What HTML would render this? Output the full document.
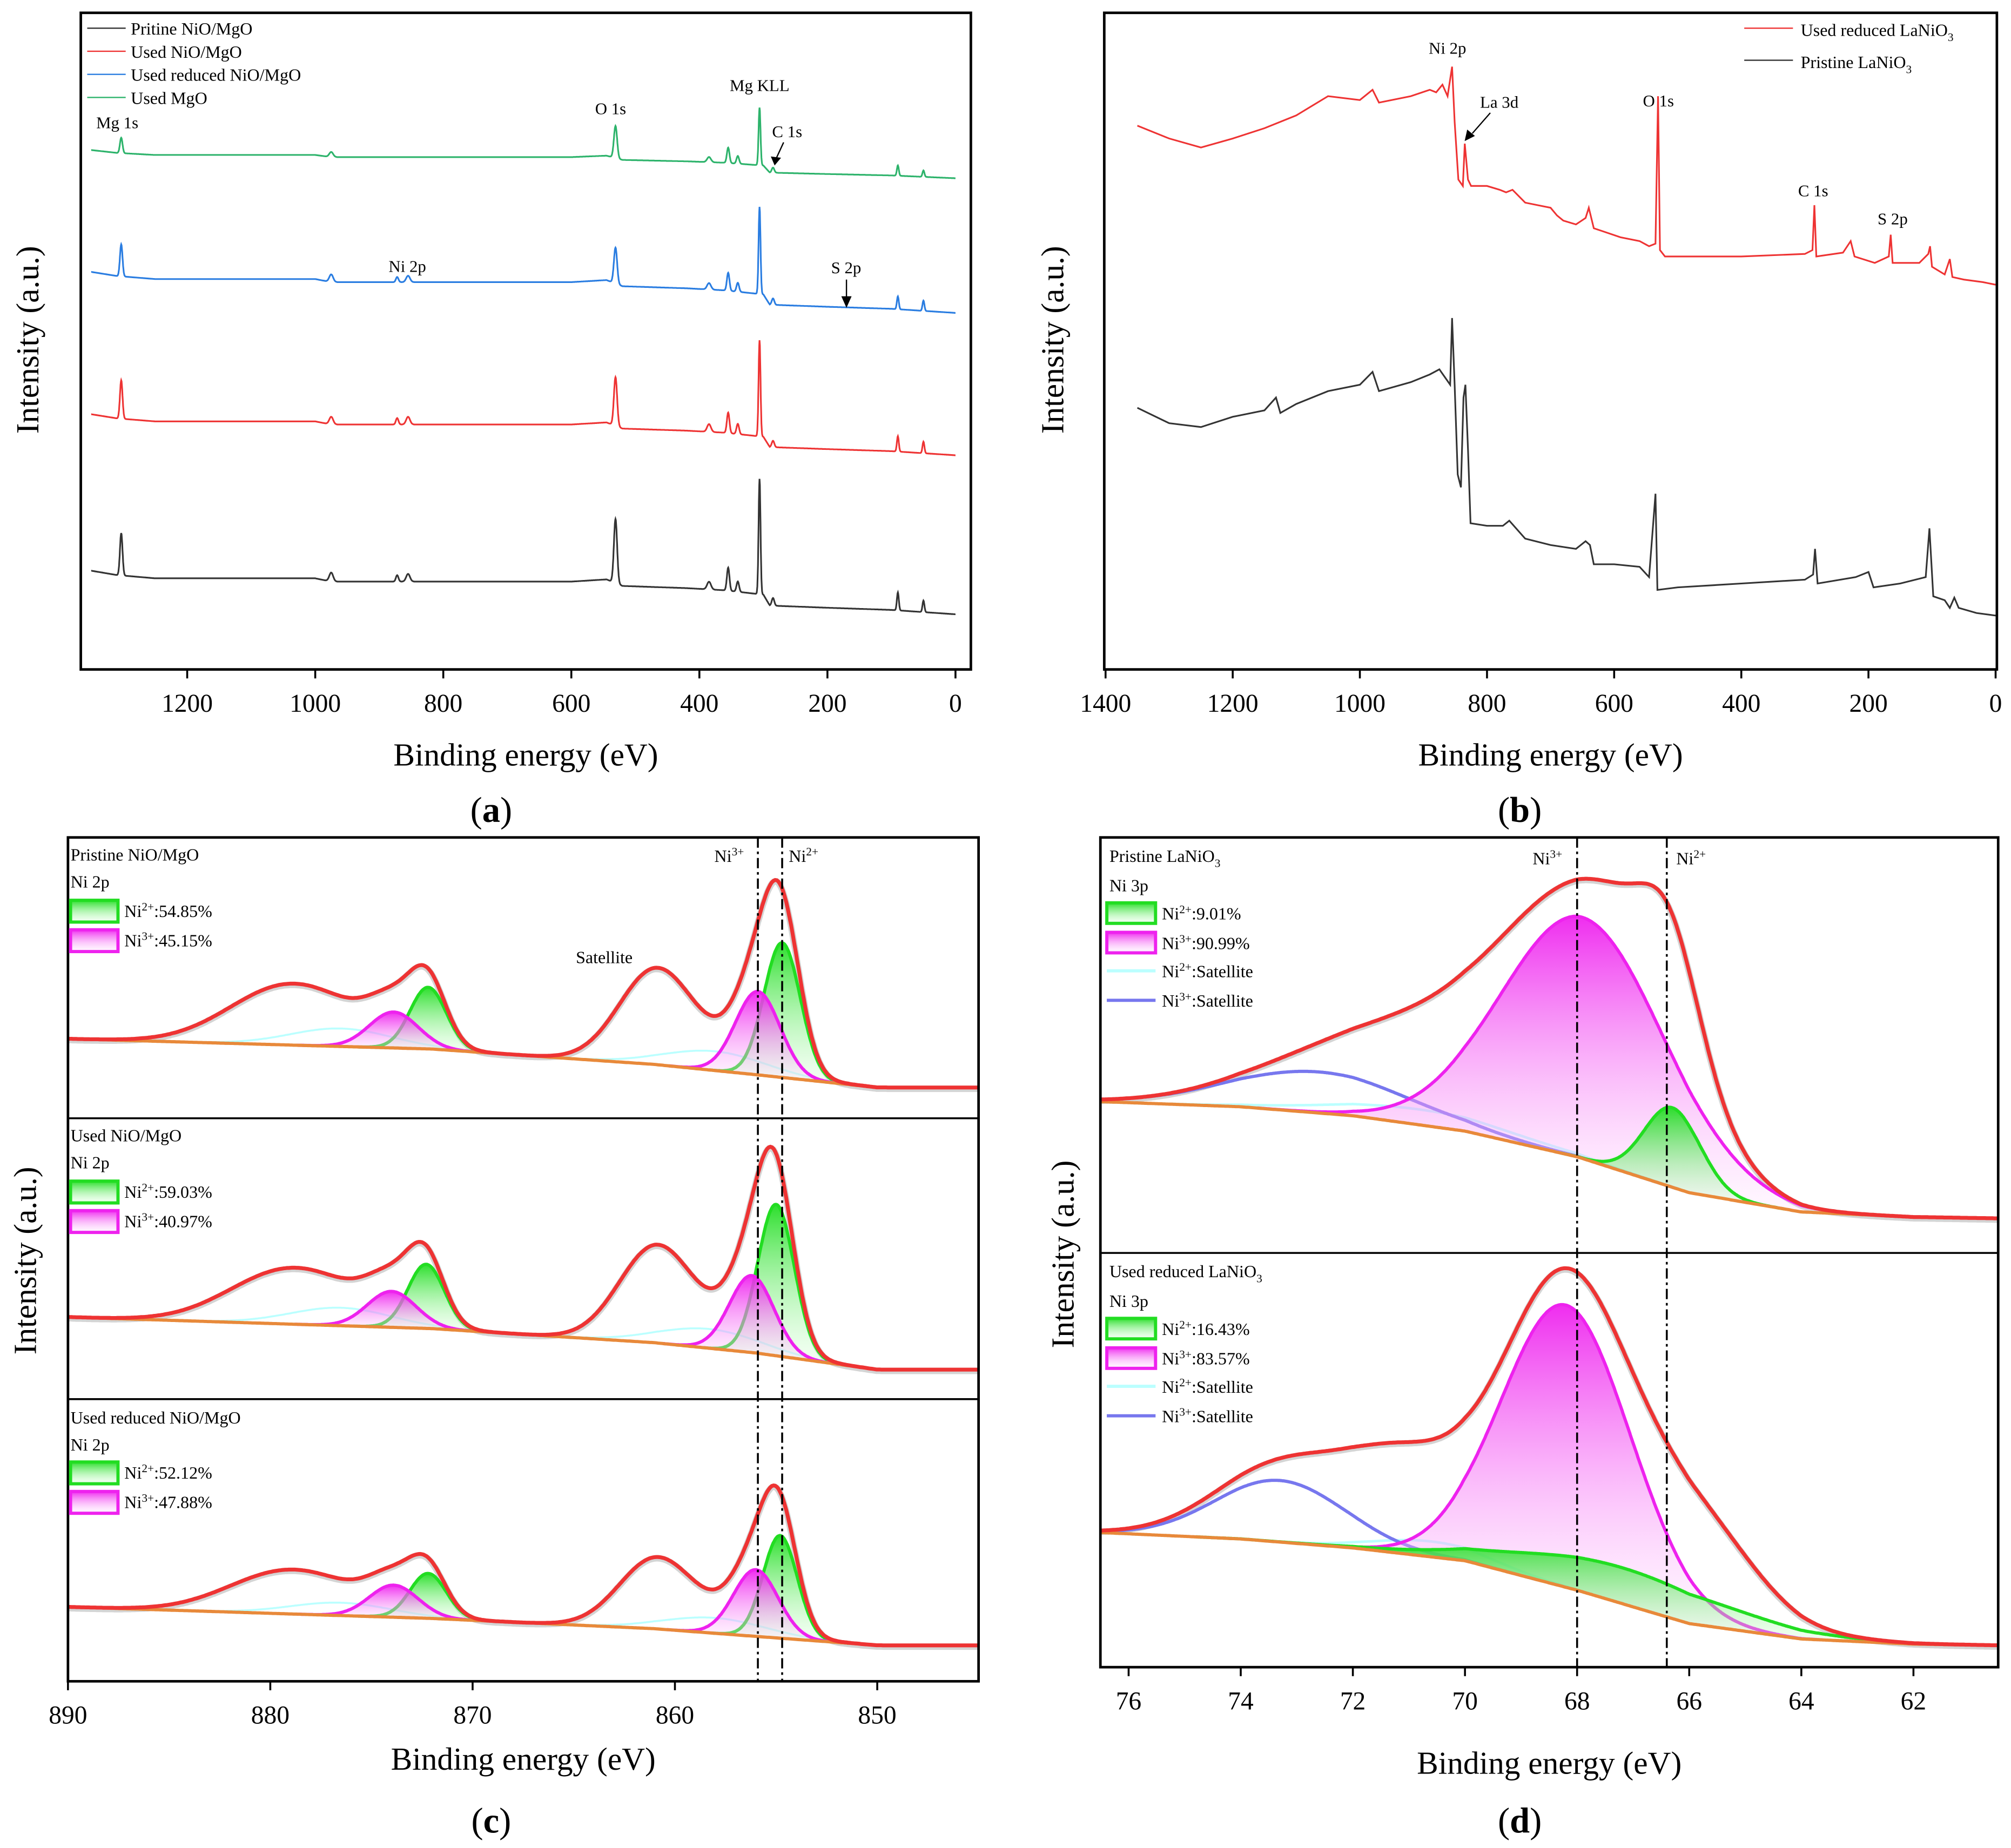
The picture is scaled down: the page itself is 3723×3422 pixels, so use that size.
<!DOCTYPE html>
<html><head><meta charset="utf-8"><style>
html,body{margin:0;padding:0;background:#fff}
svg{display:block}
text{font-family:"Liberation Serif",serif;fill:#000}
.tk{font-size:20px;text-anchor:middle}
.at{font-size:25px;text-anchor:middle}
.lg{font-size:13.5px}
.an{font-size:13px}
</style></head><body>
<svg id="chart" xmlns="http://www.w3.org/2000/svg" width="3723" height="3422" viewBox="0 0 1568 1441" preserveAspectRatio="none">
<defs>
<linearGradient id="gG" x1="0" y1="0" x2="0" y2="1"><stop offset="0" stop-color="#22dd22" stop-opacity="0.95"/><stop offset="1" stop-color="#ccffcc" stop-opacity="0.2"/></linearGradient>
<linearGradient id="gM" x1="0" y1="0" x2="0" y2="1"><stop offset="0" stop-color="#ee22ee" stop-opacity="0.95"/><stop offset="1" stop-color="#ffddff" stop-opacity="0.2"/></linearGradient>
<clipPath id="cA"><rect x="63" y="10" width="694" height="512"/></clipPath>
<clipPath id="cB"><rect x="861" y="10" width="696" height="512"/></clipPath>
<clipPath id="cC0"><rect x="53" y="653" width="710" height="219"/></clipPath>
<clipPath id="cC1"><rect x="53" y="872" width="710" height="219"/></clipPath>
<clipPath id="cC2"><rect x="53" y="1091" width="710" height="220"/></clipPath>
<clipPath id="cD0"><rect x="858" y="653" width="700" height="324"/></clipPath>
<clipPath id="cD1"><rect x="858" y="977" width="700" height="323"/></clipPath>
</defs>
<g id="layer"></g>
<rect x="63" y="10" width="694" height="512" fill="none" stroke="#000" stroke-width="2"/>
<rect x="861" y="10" width="696" height="512" fill="none" stroke="#000" stroke-width="2"/>
<rect x="53" y="653" width="710" height="658" fill="none" stroke="#000" stroke-width="2"/>
<line x1="53" y1="872" x2="763" y2="872" stroke="#000" stroke-width="1.5"/>
<line x1="53" y1="1091" x2="763" y2="1091" stroke="#000" stroke-width="1.5"/>
<rect x="858" y="653" width="700" height="647" fill="none" stroke="#000" stroke-width="2"/>
<line x1="858" y1="977" x2="1558" y2="977" stroke="#000" stroke-width="1.5"/>
<text class="at" x="410" y="597">Binding energy (eV)</text>
<text class="at" x="1209" y="597">Binding energy (eV)</text>
<text class="at" x="408" y="1380">Binding energy (eV)</text>
<text class="at" x="1208" y="1383">Binding energy (eV)</text>
<text class="at" transform="translate(30,265) rotate(-90)">Intensity (a.u.)</text>
<text class="at" transform="translate(829,265) rotate(-90)">Intensity (a.u.)</text>
<text class="at" transform="translate(28,983) rotate(-90)">Intensity (a.u.)</text>
<text class="at" transform="translate(837,978) rotate(-90)">Intensity (a.u.)</text>
<text class="at" x="383" y="641" style="font-size:28px">(<tspan font-weight="bold">a</tspan>)</text>
<text class="at" x="1185" y="641" style="font-size:28px">(<tspan font-weight="bold">b</tspan>)</text>
<text class="at" x="383" y="1429" style="font-size:28px">(<tspan font-weight="bold">c</tspan>)</text>
<text class="at" x="1185" y="1429" style="font-size:28px">(<tspan font-weight="bold">d</tspan>)</text>
<g>
<line x1="68" y1="22" x2="98" y2="22" stroke="#333"/><text class="lg" x="102" y="27">Pritine NiO/MgO</text>
<line x1="68" y1="40" x2="98" y2="40" stroke="#e33"/><text class="lg" x="102" y="45">Used NiO/MgO</text>
<line x1="68" y1="58" x2="98" y2="58" stroke="#2a7de1"/><text class="lg" x="102" y="63">Used reduced NiO/MgO</text>
<line x1="68" y1="76" x2="98" y2="76" stroke="#2db36b"/><text class="lg" x="102" y="81">Used MgO</text>
</g>
<g>
<text class="an" x="75" y="100">Mg 1s</text><text class="an" x="464" y="89">O 1s</text>
<text class="an" x="569" y="71">Mg KLL</text><text class="an" x="602" y="107">C 1s</text>
<line x1="611" y1="111" x2="605" y2="124" stroke="#000"/><path d="M601,122 L604,129 L609,123Z"/>
<text class="an" x="303" y="212">Ni 2p</text><text class="an" x="648" y="213">S 2p</text>
<line x1="660" y1="218" x2="660" y2="233" stroke="#000"/><path d="M656,231 L660,240 L664,231Z"/>
</g>
<g>
<line x1="1360" y1="22" x2="1398" y2="22" stroke="#e33"/><text class="lg" x="1404" y="28">Used reduced LaNiO<tspan font-size="9" dy="4">3</tspan></text>
<line x1="1360" y1="47" x2="1398" y2="47" stroke="#333"/><text class="lg" x="1404" y="53">Pristine LaNiO<tspan font-size="9" dy="4">3</tspan></text>
</g>
<g>
<text class="an" x="1114" y="42">Ni 2p</text><text class="an" x="1154" y="84">La 3d</text>
<line x1="1162" y1="88" x2="1148" y2="104" stroke="#000"/><path d="M1144,101 L1142,110 L1150,106Z"/>
<text class="an" x="1281" y="83">O 1s</text><text class="an" x="1402" y="153">C 1s</text><text class="an" x="1464" y="175">S 2p</text>
</g>
<g class="lg">
<text x="55" y="671">Pristine NiO/MgO</text><text x="55" y="692">Ni 2p</text>
<rect x="55" y="702" width="37" height="17" fill="url(#gG)" stroke="#2d2" stroke-width="2.5"/><text x="97" y="715">Ni<tspan font-size="9" dy="-5">2+</tspan><tspan dy="5">:54.85%</tspan></text>
<rect x="55" y="725" width="37" height="17" fill="url(#gM)" stroke="#e2e" stroke-width="2.5"/><text x="97" y="738">Ni<tspan font-size="9" dy="-5">3+</tspan><tspan dy="5">:45.15%</tspan></text>
<text x="55" y="890">Used NiO/MgO</text><text x="55" y="911">Ni 2p</text>
<rect x="55" y="921" width="37" height="17" fill="url(#gG)" stroke="#2d2" stroke-width="2.5"/><text x="97" y="934">Ni<tspan font-size="9" dy="-5">2+</tspan><tspan dy="5">:59.03%</tspan></text>
<rect x="55" y="944" width="37" height="17" fill="url(#gM)" stroke="#e2e" stroke-width="2.5"/><text x="97" y="957">Ni<tspan font-size="9" dy="-5">3+</tspan><tspan dy="5">:40.97%</tspan></text>
<text x="55" y="1110">Used reduced NiO/MgO</text><text x="55" y="1131">Ni 2p</text>
<rect x="55" y="1140" width="37" height="17" fill="url(#gG)" stroke="#2d2" stroke-width="2.5"/><text x="97" y="1153">Ni<tspan font-size="9" dy="-5">2+</tspan><tspan dy="5">:52.12%</tspan></text>
<rect x="55" y="1163" width="37" height="17" fill="url(#gM)" stroke="#e2e" stroke-width="2.5"/><text x="97" y="1176">Ni<tspan font-size="9" dy="-5">3+</tspan><tspan dy="5">:47.88%</tspan></text>
<text x="557" y="672">Ni<tspan font-size="9" dy="-5">3+</tspan></text><text x="615" y="672">Ni<tspan font-size="9" dy="-5">2+</tspan></text>
<text x="449" y="751">Satellite</text>
</g>
<g class="lg">
<text x="865" y="672">Pristine LaNiO<tspan font-size="9" dy="4">3</tspan></text><text x="865" y="695">Ni 3p</text>
<rect x="863" y="704" width="38" height="16" fill="url(#gG)" stroke="#2d2" stroke-width="2.5"/><text x="906" y="717">Ni<tspan font-size="9" dy="-5">2+</tspan><tspan dy="5">:9.01%</tspan></text>
<rect x="863" y="727" width="38" height="16" fill="url(#gM)" stroke="#e2e" stroke-width="2.5"/><text x="906" y="740">Ni<tspan font-size="9" dy="-5">3+</tspan><tspan dy="5">:90.99%</tspan></text>
<line x1="863" y1="757" x2="901" y2="757" stroke="#bff" stroke-width="2.5"/><text x="906" y="762">Ni<tspan font-size="9" dy="-5">2+</tspan><tspan dy="5">:Satellite</tspan></text>
<line x1="863" y1="780" x2="901" y2="780" stroke="#7777ee" stroke-width="2.5"/><text x="906" y="785">Ni<tspan font-size="9" dy="-5">3+</tspan><tspan dy="5">:Satellite</tspan></text>
<text x="865" y="996">Used reduced LaNiO<tspan font-size="9" dy="4">3</tspan></text><text x="865" y="1019">Ni 3p</text>
<rect x="863" y="1028" width="38" height="16" fill="url(#gG)" stroke="#2d2" stroke-width="2.5"/><text x="906" y="1041">Ni<tspan font-size="9" dy="-5">2+</tspan><tspan dy="5">:16.43%</tspan></text>
<rect x="863" y="1051" width="38" height="16" fill="url(#gM)" stroke="#e2e" stroke-width="2.5"/><text x="906" y="1064">Ni<tspan font-size="9" dy="-5">3+</tspan><tspan dy="5">:83.57%</tspan></text>
<line x1="863" y1="1081" x2="901" y2="1081" stroke="#bff" stroke-width="2.5"/><text x="906" y="1086">Ni<tspan font-size="9" dy="-5">2+</tspan><tspan dy="5">:Satellite</tspan></text>
<line x1="863" y1="1104" x2="901" y2="1104" stroke="#7777ee" stroke-width="2.5"/><text x="906" y="1109">Ni<tspan font-size="9" dy="-5">3+</tspan><tspan dy="5">:Satellite</tspan></text>
<text x="1195" y="674">Ni<tspan font-size="9" dy="-5">3+</tspan></text><text x="1307" y="674">Ni<tspan font-size="9" dy="-5">2+</tspan></text>
</g>
</svg>
<script>
const aTicks=[1200,1000,800,600,400,200,0];
const bTicks=[1400,1200,1000,800,600,400,200,0];
const cTicks=[890,880,870,860,850];
const dTicks=[76,74,72,70,68,66,64,62];
const aBase=[[1350,0],[1310,-4],[1250,-7],[1000,-7],[975,-10],[600,-10],[545,-8],[520,-14],[420,-16],[360,-18],[300,-22],[290,-32],[200,-34],[100,-36],[0,-40]];
const aPeakE=[1303,975,855,872,531,385,355,340,306,285,90,50];
const aPeakW=[2,3,3,2,2.5,3,2,2,1.5,2,1.5,1.5];
const aGreen=[12,4,0,0,25,4,12,6,45,4,8,5];
const aBlue=[25,6,5,4,28,5,14,7,68,5,10,8];
const aRed=[30,6,6,5,38,6,16,8,75,5,12,9];
const aBlack=[33,7,6,5,50,6,18,8,90,6,14,9];
const aOffsets=[117,212,323,445];
const aBaseScale=[0.55,0.8,0.8,0.85];
const bRed=[[1350,98],[1300,108],[1250,115],[1200,108],[1150,100],[1100,90],[1050,75],[1000,78],[980,70],[970,80],[920,75],[890,70],[880,72],[870,66],[862,75],[855,52],[851,95],[845,140],[838,145],[835,112],[830,140],[825,145],[800,145],[780,148],[770,150],[760,148],[740,158],[720,160],[700,162],[690,168],[680,172],[660,175],[645,170],[640,162],[632,178],[620,180],[590,185],[560,188],[545,192],[535,190],[531,75],[528,195],[520,200],[400,200],[300,198],[288,195],[285,160],[282,200],[240,197],[228,188],[222,200],[190,205],[168,200],[165,183],[162,205],[120,205],[106,198],[103,192],[100,208],[80,214],[72,202],[68,216],[50,218],[20,220],[0,222]];
const bBlack=[[1350,318],[1300,330],[1250,333],[1200,325],[1150,320],[1132,310],[1125,322],[1100,315],[1050,305],[1000,300],[980,290],[970,305],[920,298],[890,292],[875,288],[865,295],[858,300],[855,248],[851,300],[846,370],[841,380],[837,310],[834,300],[830,350],[826,408],[800,410],[775,410],[765,406],[740,420],[700,425],[660,428],[645,422],[638,425],[632,440],[600,440],[560,442],[545,450],[535,385],[532,460],[500,458],[400,455],[300,452],[287,448],[284,428],[280,455],[220,450],[200,446],[192,458],[150,455],[110,450],[104,412],[98,465],[80,468],[72,474],[65,466],[58,474],[30,478],[0,480]];
const cBase=[
 [[890,810],[872,818],[861,830],[856,838],[850,848],[845,848]],
 [[890,1027],[872,1036],[861,1047],[856,1055],[850,1068],[845,1068]],
 [[890,1253],[872,1262],[861,1270],[856,1276],[850,1283],[845,1283]]];
const cGreen=[[[854.7,0.9,105],[872.2,0.9,48]],[[855,0.9,118],[872.3,0.9,50]],[[854.8,0.85,80],[872.2,0.9,35]]];
const cMag=[[[855.9,1.1,65],[873.9,1.2,28]],[[856.2,1.1,60],[874,1.2,28]],[[856,1.1,52],[873.9,1.2,25]]];
const cCyan=[[[858,2.5,15],[876.5,2.5,14]],[[858.3,2.5,15],[876.5,2.5,14]],[[858,2.5,12],[876.5,2.5,10]]];
const cSat=[[[861,1.8,68],[879.5,2.8,40]],[[861,1.8,68],[879.5,2.8,36]],[[861,1.8,50],[879.5,2.8,29]]];
const dBase=[
 [[76.5,859],[74,863],[72,870],[70,882],[68,902],[66,930],[64,945],[62,949],[60.5,950]],
 [[76.5,1195],[74,1200],[72,1207],[70,1217],[68,1240],[66,1266],[64,1278],[62,1282],[60.5,1283]]];
const dGreen=[[[66.3,0.5,62]],[[67.2,1.9,28]]];
const dMag=[[[67.9,1.45,188]],[[68.2,1.15,220]]];
const dBlue=[[[72.6,1.6,32]],[[73.3,1.15,48]]];
const dCyan=[[[70.8,1.6,12]],[[70.6,1.0,12]]];
const dExtra=[[[70.5,1.5,42],[66.6,0.9,50]],[[72.8,1.5,12],[71.2,1.0,50],[65.8,1.0,55]]];

const NS='http://www.w3.org/2000/svg';
const layer=document.getElementById('layer');
function mk(tag,attrs,parent){const e=document.createElementNS(NS,tag);for(const k in attrs)e.setAttribute(k,attrs[k]);(parent||layer).appendChild(e);return e;}
function interp(arr,E){for(let i=0;i<arr.length-1;i++){const a=arr[i],b=arr[i+1];if((E<=a[0]&&E>=b[0])){const t=(a[0]-E)/(a[0]-b[0]);return a[1]+t*(b[1]-a[1]);}}return E>arr[0][0]?arr[0][1]:arr[arr.length-1][1];}
function gsum(list,E){let s=0;for(const p of list)s+=p[2]*Math.exp(-((E-p[0])**2)/(2*p[1]*p[1]));return s;}
function gsumW(E,pos,w,h){let s=0;for(let i=0;i<pos.length;i++)s+=h[i]*Math.exp(-((E-pos[i])**2)/(2*w[i]*w[i]));return s;}
const xA=E=>745-0.4992*E, xB=E=>1556-0.4957*E, xC=E=>53+(890-E)*15.775, xD=E=>880+(76-E)*43.71;

function ticks(vals,fx,yAxis,name){vals.forEach(v=>{
 const l=mk('line',{x1:fx(v),x2:fx(v),y1:yAxis,y2:yAxis+7,stroke:'#000','stroke-width':1.5});
 
 
 const t=mk('text',{x:fx(v),y:yAxis+33,class:'tk'});t.textContent=v;
 
 
});}
ticks(aTicks,xA,522,'panel-a-x');ticks(bTicks,xB,522,'panel-b-x');ticks(cTicks,xC,1311,'panel-c-x');ticks(dTicks,xD,1300,'panel-d-x');

const aG=mk('g',{'clip-path':'url(#cA)'});
const aSeries=[[aGreen,'#2db36b','used-mgo'],[aBlue,'#2a7de1','used-reduced-nio-mgo'],[aRed,'#e33','used-nio-mgo'],[aBlack,'#333','pristine-nio-mgo']];
aSeries.forEach((s,i)=>{let d='';for(let E=1350;E>=0;E-=0.5){const I=interp(aBase,E)*aBaseScale[i]+gsumW(E,aPeakE,aPeakW,s[0]);d+=(d?'L':'M')+xA(E).toFixed(1)+','+(aOffsets[i]-I).toFixed(1);}
 const p=mk('path',{d:d,fill:'none',stroke:s[1],'stroke-width':1.3},aG);
 
 });

const bG=mk('g',{'clip-path':'url(#cB)'});
[[bRed,'#e33','used-reduced-lanio3'],[bBlack,'#333','pristine-lanio3']].forEach(s=>{
 const d=s[0].map((p,i)=>(i?'L':'M')+xB(p[0]).toFixed(1)+','+p[1]).join('');
 const p=mk('path',{d:d,fill:'none',stroke:s[1],'stroke-width':1.3},bG);
 
 });

function fitPanel(fx,E0,E1,base,comps,env,clip,prefix){
 const g=mk('g',{'clip-path':'url(#'+clip+')'});
 const step=(E0-E1)/600;
 function curve(list){let pts=[];for(let E=E0;E>=E1;E-=step)pts.push([fx(E),interp(base,E)-gsum(list,E)]);return pts;}
 let ep=curve(env);
 const raw=mk('path',{d:ep.map((p,i)=>(i?'L':'M')+p[0].toFixed(1)+','+(p[1]+1).toFixed(1)).join(''),fill:'none',stroke:'#d4d4d4','stroke-width':5},g);
 
 
 comps.forEach(c=>{c.list.forEach((pk,k)=>{const lo=pk[0]+4*pk[1],hi=pk[0]-4*pk[1];let pts=[],bp=[];
   for(let E=Math.min(lo,E0);E>=Math.max(hi,E1);E-=step/2){pts.push([fx(E),interp(base,E)-gsum([pk],E)]);bp.push([fx(E),interp(base,E)]);}
   if(c.fill){const f=mk('path',{d:pts.map((p,i)=>(i?'L':'M')+p[0].toFixed(1)+','+p[1].toFixed(1)).join('')+bp.reverse().map(p=>'L'+p[0].toFixed(1)+','+p[1].toFixed(1)).join('')+'Z',fill:c.fill,stroke:'none'},g);
     
     }
   const l=mk('path',{d:pts.map((p,i)=>(i?'L':'M')+p[0].toFixed(1)+','+p[1].toFixed(1)).join(''),fill:'none',stroke:c.color,'stroke-width':c.w},g);
   
   });});
 let bpts=[];for(let E=E0;E>=E1;E-=step)bpts.push([fx(E),interp(base,E)]);
 const bl=mk('path',{d:bpts.map((p,i)=>(i?'L':'M')+p[0].toFixed(1)+','+p[1].toFixed(1)).join(''),fill:'none',stroke:'#e8893a','stroke-width':2.5},g);
 
 
 const el=mk('path',{d:ep.map((p,i)=>(i?'L':'M')+p[0].toFixed(1)+','+p[1].toFixed(1)).join(''),fill:'none',stroke:'#ee3333','stroke-width':3},g);
 
 
}
for(let i=0;i<3;i++){
 fitPanel(xC,891,844,cBase[i],[
  {list:cCyan[i],color:'#bff',w:1.5,name:'satellite'},
  {list:cGreen[i],color:'#22dd22',w:2.5,fill:'url(#gG)',name:'ni2'},
  {list:cMag[i],color:'#ee22ee',w:2.5,fill:'url(#gM)',name:'ni3'}],
  cGreen[i].concat(cMag[i],cCyan[i],cSat[i]),'cC'+i,'panel-c-'+i);
}
for(let i=0;i<2;i++){
 fitPanel(xD,76.6,60.4,dBase[i],[
  {list:dCyan[i],color:'#bff',w:2,name:'ni2-satellite'},
  {list:dBlue[i],color:'#7777ee',w:2.5,name:'ni3-satellite'},
  {list:dMag[i],color:'#ee22ee',w:2.5,fill:'url(#gM)',name:'ni3'},
  {list:dGreen[i],color:'#22dd22',w:2.5,fill:'url(#gG)',name:'ni2'}],
  dGreen[i].concat(dMag[i],dBlue[i],dCyan[i],dExtra[i]),'cD'+i,'panel-d-'+i);
}
[[855.9,'ni3'],[854.7,'ni2']].forEach(r=>{const l=mk('line',{x1:xC(r[0]),x2:xC(r[0]),y1:653,y2:1311,stroke:'#000','stroke-width':1.5,'stroke-dasharray':'8,3,2,3'});
 
 });
[[68,'ni3'],[66.4,'ni2']].forEach(r=>{const l=mk('line',{x1:xD(r[0]),x2:xD(r[0]),y1:653,y2:1300,stroke:'#000','stroke-width':1.5,'stroke-dasharray':'8,3,2,3'});
 
 });
</script>
</body></html>
